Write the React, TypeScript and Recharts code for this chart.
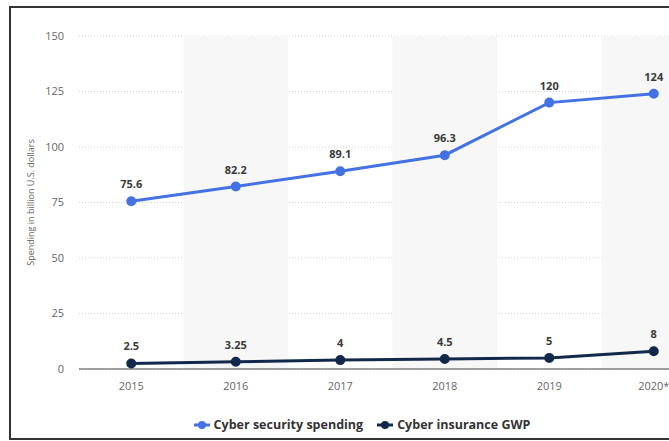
import React from 'react';
import {
  LineChart, Line, XAxis, YAxis, CartesianGrid, Legend, LabelList, ReferenceArea,
} from 'recharts';

const years = ['2015', '2016', '2017', '2018', '2019', '2020*'];
const securitySpending = [75.6, 82.2, 89.1, 96.3, 120, 124];
const insuranceGwp = [2.5, 3.25, 4, 4.5, 5, 8];
const yTicks = [0, 25, 50, 75, 100, 125, 150];

const data = years.map((year, i) => ({
  year,
  spending: securitySpending[i],
  gwp: insuranceGwp[i],
}));

// every second year gets a light band behind it
const shadedYears = years.filter((_, i) => i % 2 === 1);

const font = '"Open Sans", "Liberation Sans", sans-serif';
const seriesOrder = ['Cyber security spending', 'Cyber insurance GWP'];

function LegendContent({ payload }: any) {
  const items = [...(payload || [])].sort(
    (a: any, b: any) => seriesOrder.indexOf(a.value) - seriesOrder.indexOf(b.value),
  );
  return (
    <div style={{ display: 'flex', justifyContent: 'center', gap: 14, paddingLeft: 18, fontFamily: font }}>
      {items.map((it: any) => (
        <div key={it.value} style={{ display: 'flex', alignItems: 'center' }}>
          <svg width={16} height={10} style={{ marginRight: 4 }}>
            <line x1={0} y1={5} x2={16} y2={5} stroke={it.color} strokeWidth={3} />
            <circle cx={8} cy={5} r={4} fill={it.color} />
          </svg>
          <span style={{ color: '#333', fontWeight: 700, fontSize: 12.5 }}>{it.value}</span>
        </div>
      ))}
    </div>
  );
}

export default function App() {
  return (
    <div style={{ position: 'fixed', left: 0, top: 0, width: 669, height: 441, overflow: 'hidden', background: '#fff' }}>
      <div style={{ position: 'absolute', left: 9, top: 6, width: 800, height: 430, border: '2.5px solid #333' }} />
      <div style={{ position: 'absolute', left: 0, top: 0 }}>
        <LineChart width={720} height={441} data={data} margin={{ top: 36, right: 14, left: 0, bottom: 8 }}>
          {shadedYears.map((y) => (
            <ReferenceArea key={y} x1={y} x2={y} fill="#f7f7f7" fillOpacity={1} stroke="none" ifOverflow="visible" />
          ))}
          <CartesianGrid vertical={false} stroke="#cfcfcf" strokeDasharray="1 2" />
          <XAxis
            dataKey="year"
            scale="band"
            height={47}
            tickLine={false}
            axisLine={{ stroke: '#444' }}
            tickMargin={7}
            tick={{ fill: '#666', fontSize: 11, fontFamily: font }}
          />
          <YAxis
            width={79}
            domain={[0, 150]}
            ticks={yTicks}
            axisLine={false}
            tickLine={false}
            tickSize={8}
            tickMargin={7}
            tick={{ fill: '#666', fontSize: 11, fontFamily: font }}
            label={{
              value: 'Spending in billion U.S. dollars',
              angle: -90,
              position: 'insideLeft',
              offset: 31,
              style: { textAnchor: 'middle', fill: '#666', fontSize: 9, fontFamily: font },
            }}
          />
          <Legend verticalAlign="bottom" content={<LegendContent />} />
          <Line
            name="Cyber security spending"
            dataKey="spending"
            stroke="#4472e4"
            strokeWidth={3}
            dot={{ r: 3.5, fill: '#4472e4', stroke: '#4472e4' }}
            isAnimationActive={false}
          >
            <LabelList dataKey="spending" position="top" offset={13} fill="#3a3a3a" fontSize={11} fontWeight={700} fontFamily={font} />
          </Line>
          <Line
            name="Cyber insurance GWP"
            dataKey="gwp"
            stroke="#13294b"
            strokeWidth={3}
            dot={{ r: 3.5, fill: '#13294b', stroke: '#13294b' }}
            isAnimationActive={false}
          >
            <LabelList dataKey="gwp" position="top" offset={13} fill="#3a3a3a" fontSize={11} fontWeight={700} fontFamily={font} />
          </Line>
        </LineChart>
      </div>
    </div>
  );
}
